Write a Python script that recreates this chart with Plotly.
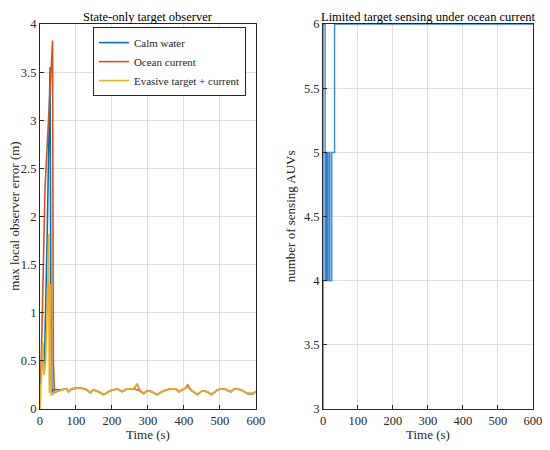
import plotly.graph_objects as go

# left panel: max local observer error (m)
calm_t = [0, 3, 8, 12, 20, 28, 30, 33, 37]
calm_e = [0.25, 0.35, 0.6, 0.4, 1.8, 3.55, 1.3, 0.17, 0.2]
ocean_t = [0, 3, 6, 14, 35, 37, 40]
ocean_e = [0.3, 0.45, 0.9, 2.3, 3.83, 0.5, 0.17]
evasive_t = [0, 4, 8, 11, 16, 20, 24, 26, 29, 31, 36, 40]
evasive_e = [0.0, 0.3, 0.7, 0.35, 0.5, 1.0, 1.82, 0.17, 1.3, 0.15, 0.15, 0.18]

# common slow ripple after the transient
tail_t = [60, 74, 79, 88, 112, 130, 140, 149, 163, 177, 195, 214, 228, 242, 260,
          270, 279, 288, 298, 311, 325, 344, 363, 377, 386, 405, 410, 419, 437,
          451, 465, 476, 493, 512, 530, 539, 558, 577, 591, 600]
tail_e = [0.20, 0.21, 0.18, 0.21, 0.22, 0.20, 0.17, 0.20, 0.18, 0.15, 0.19, 0.21,
          0.18, 0.21, 0.21, 0.26, 0.18, 0.16, 0.19, 0.18, 0.15, 0.19, 0.21, 0.21,
          0.18, 0.22, 0.23, 0.20, 0.15, 0.19, 0.18, 0.15, 0.20, 0.21, 0.18, 0.21,
          0.20, 0.16, 0.16, 0.18]
ocean_tail_e = [0.20, 0.21, 0.18, 0.21, 0.22, 0.20, 0.17, 0.20, 0.18, 0.15, 0.19, 0.21,
                0.18, 0.21, 0.21, 0.20, 0.19, 0.16, 0.19, 0.18, 0.15, 0.19, 0.21, 0.21,
                0.18, 0.22, 0.25, 0.20, 0.15, 0.19, 0.18, 0.15, 0.20, 0.21, 0.18, 0.21,
                0.20, 0.16, 0.16, 0.18]

# right panel: number of sensing AUVs (step signal)
sense_t = [0, 0.3, 6, 8, 11, 14, 14.6, 19, 19.6, 25, 33, 600]
sense_n = [3, 6, 4, 5, 4, 5, 4, 5, 4, 5, 6, 6]

FONT = "Liberation Serif, Times New Roman, serif"
AX = "#262626"
GRID = "#dfdfdf"

fig = go.Figure()
fig.add_trace(go.Scatter(x=calm_t + tail_t, y=calm_e + tail_e, mode="lines",
                         name="Calm water", line=dict(color="#0072BD", width=1.6)))
fig.add_trace(go.Scatter(x=ocean_t + tail_t, y=ocean_e + ocean_tail_e, mode="lines",
                         name="Ocean current", line=dict(color="#D95319", width=1.6)))
fig.add_trace(go.Scatter(x=evasive_t + tail_t, y=evasive_e + tail_e, mode="lines",
                         name="Evasive target + current", line=dict(color="#EDB120", width=1.6)))
fig.add_trace(go.Scatter(x=sense_t, y=sense_n, mode="lines", line_shape="hv",
                         showlegend=False, line=dict(color="#2C82D8", width=1.3),
                         xaxis="x2", yaxis="y2"))

axis_common = dict(showline=True, linecolor=AX, linewidth=1, mirror=True,
                   ticks="inside", ticklen=4, tickcolor=AX, showgrid=True,
                   gridcolor=GRID, zeroline=False, automargin=False,
                   ticklabeloverflow="allow",
                   tickfont=dict(family=FONT, size=12.5, color=AX))

# page body adds an 8px offset, so the figure is kept inside the window
fig.update_layout(
    width=534, height=434,
    paper_bgcolor="white", plot_bgcolor="white",
    margin=dict(l=0, r=0, t=0, b=0),
    font=dict(family=FONT, color=AX),
    xaxis=dict(domain=[0.0599, 0.4644], range=[0, 600], dtick=100, anchor="y",
               title=dict(text="Time (s)", font=dict(size=13), standoff=0), **axis_common),
    yaxis=dict(domain=[0.076, 0.963], range=[0, 4], dtick=0.5, anchor="x",
               **axis_common),
    xaxis2=dict(domain=[0.5899, 0.983], range=[0, 600], dtick=100, anchor="y2",
                title=dict(text="Time (s)", font=dict(size=13), standoff=0), **axis_common),
    yaxis2=dict(domain=[0.076, 0.963], range=[3, 6], dtick=0.5, anchor="x2",
                **axis_common),
    legend=dict(x=0.159, y=0.956, xanchor="left", yanchor="top",
                bgcolor="white", bordercolor=AX, borderwidth=1,
                font=dict(family=FONT, size=11, color=AX),
                tracegroupgap=0, itemwidth=30),
    annotations=[
        dict(text="State-only target observer", x=0.2622, y=1.0, xref="paper",
             yref="paper", xanchor="center", yanchor="top", showarrow=False,
             font=dict(family=FONT, size=12.5, color="black")),
        dict(text="Limited target sensing under ocean current", x=0.7865, y=1.0,
             xref="paper", yref="paper", xanchor="center", yanchor="top",
             showarrow=False, font=dict(family=FONT, size=12.5, color="black")),
        dict(text="max local observer error (m)", x=0.012, y=0.52, xref="paper",
             yref="paper", xanchor="center", yanchor="middle", textangle=-90,
             showarrow=False, font=dict(family=FONT, size=13, color=AX)),
        dict(text="number of sensing AUVs", x=0.528, y=0.52, xref="paper",
             yref="paper", xanchor="center", yanchor="middle", textangle=-90,
             showarrow=False, font=dict(family=FONT, size=13, color=AX)),
    ],
)

fig.write_html("out.html")
